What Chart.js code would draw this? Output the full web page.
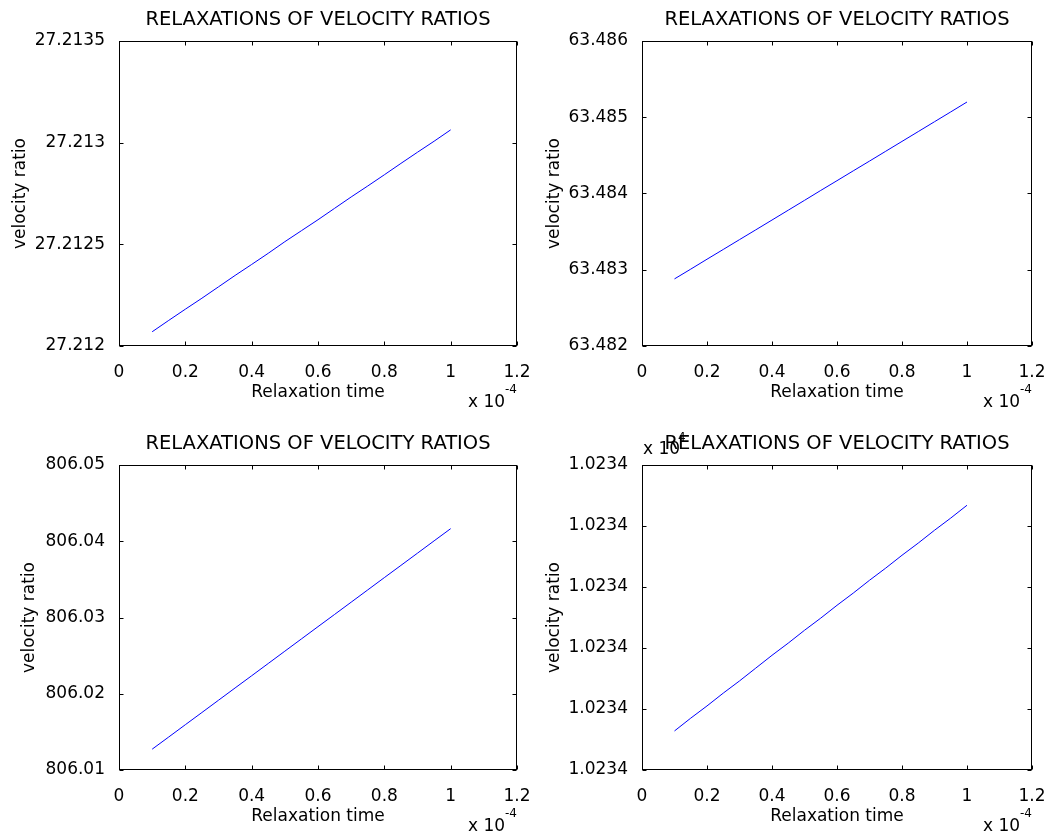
<!DOCTYPE html>
<html>
<head>
<meta charset="utf-8">
<script src="https://cdn.jsdelivr.net/npm/chart.js@4/dist/chart.umd.min.js"></script>
<style>
html,body{margin:0;padding:0;background:#fff;width:1054px;height:832px;overflow:hidden;position:relative}
canvas{position:absolute;display:block}
</style>
</head>
<body>
<canvas id="c1" width="540" height="420" style="left:0;top:0"></canvas>
<canvas id="c2" width="531" height="420" style="left:523px;top:0"></canvas>
<canvas id="c3" width="540" height="420" style="left:0;top:424px"></canvas>
<canvas id="c4" width="531" height="420" style="left:523px;top:424px"></canvas>
<script>
// ---------- data ----------
const relaxationTime = [1.0e-5,1.5e-5,2.0e-5,2.5e-5,3.0e-5,3.5e-5,4.0e-5,4.5e-5,5.0e-5,5.5e-5,6.0e-5,6.5e-5,7.0e-5,7.5e-5,8.0e-5,8.5e-5,9.0e-5,9.5e-5,1.0e-4];

const ratio1 = [27.212070,27.212126,27.212181,27.212235,27.212291,27.212347,27.212401,27.212456,27.212513,27.212567,27.212621,27.212677,27.212733,27.212787,27.212842,27.212898,27.212953,27.213007,27.213063];
const ratio2 = [63.482880,63.483008,63.483138,63.483266,63.483395,63.483523,63.483652,63.483781,63.483910,63.484040,63.484168,63.484297,63.484425,63.484554,63.484683,63.484812,63.484941,63.485070,63.485200];
const ratio3 = [806.01273,806.01433,806.01594,806.01754,806.01915,806.02076,806.02236,806.02397,806.02558,806.02719,806.02880,806.03040,806.03201,806.03362,806.03523,806.03683,806.03844,806.04005,806.04165];
const ratio4 = [10233.864,10233.885,10233.905,10233.926,10233.946,10233.967,10233.988,10234.008,10234.029,10234.049,10234.070,10234.090,10234.111,10234.131,10234.152,10234.172,10234.193,10234.213,10234.234];

const xTickValues = [0,2e-5,4e-5,6e-5,8e-5,1e-4,1.2e-4];
const xTickLabels = ['0','0.2','0.4','0.6','0.8','1','1.2'];

const yTicks1 = [27.212,27.2125,27.213,27.2135];
const yLabels1 = ['27.212','27.2125','27.213','27.2135'];
const yTicks2 = [63.482,63.483,63.484,63.485,63.486];
const yLabels2 = ['63.482','63.483','63.484','63.485','63.486'];
const yTicks3 = [806.01,806.02,806.03,806.04,806.05];
const yLabels3 = ['806.01','806.02','806.03','806.04','806.05'];
const yTicks4 = [10233.8,10233.9,10234.0,10234.1,10234.2,10234.3];
const yLabels4 = ['1.0234','1.0234','1.0234','1.0234','1.0234','1.0234'];

const titleText = 'RELAXATIONS OF VELOCITY RATIOS';
const xAxisLabel = 'Relaxation time';
const yAxisLabel = 'velocity ratio';
const xExponent = '-4';
const yExponent4 = '4';

// ---------- styling ----------
const FONT = '"DejaVu Sans", "Liberation Sans", Arial, sans-serif';
const TICK_SIZE = 17;
const TITLE_SIZE = 19.5;

const matlabBox = {
  id: 'matlabBox',
  afterDraw(chart, args, opts) {
    const {ctx, chartArea: a, scales: {x, y}} = chart;
    ctx.save();
    ctx.strokeStyle = '#000';
    ctx.lineWidth = 1;
    const L = Math.round(a.left) + 0.5, R = Math.round(a.right) - 0.5;
    const T = Math.round(a.top) + 0.5, B = Math.round(a.bottom) - 0.5;
    ctx.strokeRect(L, T, R - L, B - T);
    ctx.beginPath();
    const tl = 4;
    x.ticks.forEach(t => {
      const px = Math.round(x.getPixelForValue(t.value)) + 0.5;
      ctx.moveTo(px, B); ctx.lineTo(px, B - tl);
      ctx.moveTo(px, T); ctx.lineTo(px, T + tl);
    });
    y.ticks.forEach(t => {
      const py = Math.round(y.getPixelForValue(t.value)) + 0.5;
      ctx.moveTo(L, py); ctx.lineTo(L + tl, py);
      ctx.moveTo(R, py); ctx.lineTo(R - tl, py);
    });
    ctx.stroke();

    ctx.fillStyle = '#000';
    ctx.textBaseline = 'middle';
    if (opts.xExp) {
      ctx.font = '12px ' + FONT;
      ctx.textAlign = 'right';
      const supW = ctx.measureText(opts.xExp).width;
      ctx.fillText(opts.xExp, a.right, a.bottom + 44);
      ctx.font = TICK_SIZE + 'px ' + FONT;
      ctx.fillText('x 10', a.right - supW, a.bottom + 57);
    }
    if (opts.yExp) {
      ctx.font = TICK_SIZE + 'px ' + FONT;
      ctx.textAlign = 'left';
      const base = 'x 10';
      const w = ctx.measureText(base).width;
      ctx.fillText(base, a.left + 1, a.top - 15);
      ctx.font = '12px ' + FONT;
      ctx.fillText(opts.yExp, a.left + 1 + w - 2, a.top - 27);
    }
    ctx.restore();
  }
};

function makePanel(id, values, yTicks, yLabels, padRight, yTitlePad, yExp) {
  const tickFont = {family: FONT, size: TICK_SIZE, weight: 'normal'};
  return new Chart(document.getElementById(id), {
    type: 'line',
    data: {
      datasets: [{
        data: relaxationTime.map((t, i) => ({x: t, y: values[i]})),
        borderColor: '#0000ff',
        borderWidth: 1,
        pointRadius: 0,
        fill: false,
        tension: 0
      }]
    },
    options: {
      responsive: false,
      animation: false,
      devicePixelRatio: 1,
      layout: {padding: {left: 0, top: 0, right: padRight, bottom: 0}},
      plugins: {
        legend: {display: false},
        tooltip: {enabled: false},
        title: {
          display: true,
          fullSize: false,
          text: titleText,
          color: '#000',
          font: {family: FONT, size: TITLE_SIZE, weight: 'normal'},
          padding: {top: 8.3, bottom: 9.3}
        },
        matlabBox: {xExp: xExponent, yExp: yExp}
      },
      scales: {
        x: {
          type: 'linear',
          min: xTickValues[0],
          max: xTickValues[xTickValues.length - 1],
          grid: {display: false},
          border: {display: false},
          afterBuildTicks: s => { s.ticks = xTickValues.map(v => ({value: v})); },
          ticks: {
            autoSkip: false, maxRotation: 0, minRotation: 0, padding: 8.5,
            color: '#000', font: tickFont,
            callback: (v, i) => xTickLabels[i]
          },
          title: {display: true, text: xAxisLabel, color: '#000', font: tickFont, padding: {top: 0, bottom: 17}},
          afterFit: s => { s.height = 74; }
        },
        y: {
          type: 'linear',
          min: yTicks[0],
          max: yTicks[yTicks.length - 1],
          grid: {display: false},
          border: {display: false},
          afterBuildTicks: s => { s.ticks = yTicks.map(v => ({value: v})); },
          ticks: {
            padding: 6, color: '#000', font: tickFont,
            callback: (v, i) => yLabels[i]
          },
          title: {display: true, text: yAxisLabel, color: '#000', font: tickFont, padding: {top: yTitlePad, bottom: 0}},
          afterFit: s => { s.width = 119; }
        }
      }
    },
    plugins: [matlabBox]
  });
}

makePanel('c1', ratio1, yTicks1, yLabels1, 23, 10, null);
makePanel('c2', ratio2, yTicks2, yLabels2, 14, 21, null);
makePanel('c3', ratio3, yTicks3, yLabels3, 23, 19, null);
makePanel('c4', ratio4, yTicks4, yLabels4, 14, 21, yExponent4);
</script>
</body>
</html>
